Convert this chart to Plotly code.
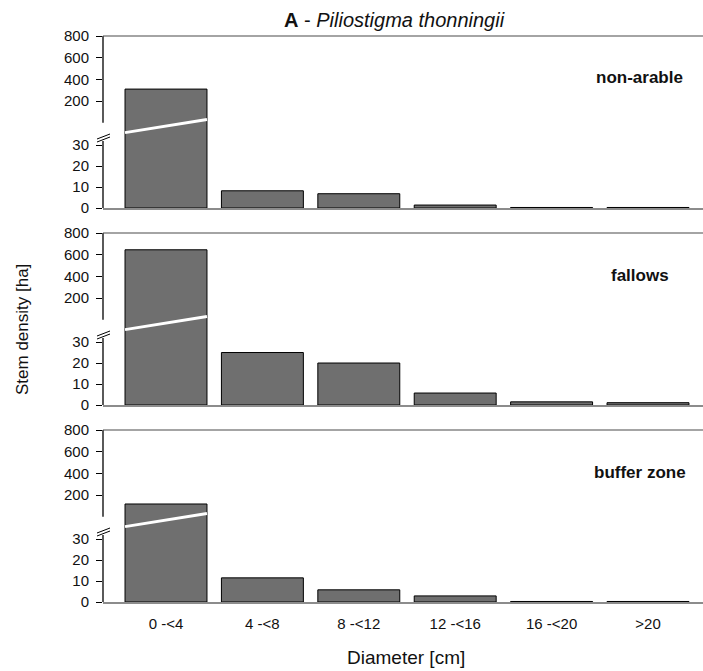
import plotly.graph_objects as go

# Stem density per diameter class, three land-use types
diameter_classes = ["0 -<4", "4 -<8", "8 -<12", "12 -<16", "16 -<20", ">20"]
non_arable = [310, 8.2, 6.8, 1.4, 0.25, 0.25]
fallows = [645, 25, 20, 5.7, 1.5, 1.1]
buffer_zone = [117, 11.5, 5.8, 2.9, 0.25, 0.25]
panel_names = ["non-arable", "fallows", "buffer zone"]
panel_values = [non_arable, fallows, buffer_zone]

lower_ticks = [0, 10, 20, 30]
upper_ticks = [200, 400, 600, 800]

# broken axis: lower segment 0..LOWER_MAX, upper segment UPPER_MIN..800
LOWER_MAX = 32.4
UPPER_MIN = -160
UPPER_MAX = 800

W, H = 703, 671
ML, MR, MT, MB = 103, 0, 36, 69
PLOT_H = H - MT - MB
PLOT_W = W - ML - MR


def py(y):
    """pixel row -> paper y"""
    return (H - MB - y) / PLOT_H


def px(x):
    """pixel column -> paper x"""
    return (x - ML) / PLOT_W


BAR_FILL = "#6f6f6f"
FONT = "Liberation Sans, Arial, sans-serif"

fig = go.Figure()
shapes = []
annotations = []
layout = {}

xpos = list(range(len(diameter_classes)))

for k, (name, vals) in enumerate(zip(panel_names, panel_values)):
    top = MT + 197 * k
    split = top + 104
    bottom = top + 172
    xi = k + 1
    yl = 2 * k + 1
    yu = 2 * k + 2
    xname = "x" if xi == 1 else f"x{xi}"
    ylname = "y" if yl == 1 else f"y{yl}"
    yuname = f"y{yu}"

    # lower segment
    fig.add_trace(go.Bar(
        x=xpos, y=vals, xaxis=xname, yaxis=ylname,
        marker=dict(color=BAR_FILL, line=dict(color="#000000", width=1)),
        width=0.85, showlegend=False, hoverinfo="skip",
    ))
    # upper segment: only bars that run past the break
    upper_vals = [v if v > LOWER_MAX else None for v in vals]
    fig.add_trace(go.Bar(
        x=xpos, y=[(v - UPPER_MIN + 300) if v is not None else None for v in upper_vals],
        base=UPPER_MIN - 300,
        xaxis=xname, yaxis=yuname,
        marker=dict(color=BAR_FILL, line=dict(color="#000000", width=1)),
        width=0.85, showlegend=False, hoverinfo="skip",
    ))

    layout[f"xaxis{xi}" if xi > 1 else "xaxis"] = dict(
        domain=[0, 1], anchor=ylname,
        range=[-0.6535, -0.6535 + PLOT_W / 96.4],
        tickmode="array", tickvals=xpos, ticktext=diameter_classes,
        showticklabels=(k == 2), ticks="", ticklabelstandoff=7,
        tickfont=dict(family=FONT, size=15, color="#111111"),
        showline=True, linecolor="#8c8c8c", linewidth=1.5,
        showgrid=False, zeroline=False,
    )
    layout[f"yaxis{yl}" if yl > 1 else "yaxis"] = dict(
        domain=[py(bottom), py(split)], anchor=xname,
        range=[0, LOWER_MAX], tickvals=lower_ticks,
        ticks="outside", ticklen=6, tickcolor="#000000", tickwidth=1,
        ticklabelstandoff=4,
        tickfont=dict(family=FONT, size=15, color="#111111"),
        showline=False, showgrid=False, zeroline=False,
    )
    layout[f"yaxis{yu}"] = dict(
        domain=[py(split), py(top)], anchor=xname,
        range=[UPPER_MIN, UPPER_MAX], tickvals=upper_ticks,
        ticks="outside", ticklen=6, tickcolor="#000000", tickwidth=1,
        ticklabelstandoff=4,
        tickfont=dict(family=FONT, size=15, color="#111111"),
        showline=False, showgrid=False, zeroline=False,
    )

    # white slash across bars that cross the break
    for i, v in enumerate(vals):
        if v > LOWER_MAX:
            shapes.append(dict(
                type="line", xref=xname, yref=yuname,
                x0=i - 0.425, x1=i + 0.425, y0=-92, y1=30,
                line=dict(color="#ffffff", width=3), layer="above",
            ))

    # y axis line, interrupted at the break
    upper_zero = top + UPPER_MAX / (UPPER_MAX - UPPER_MIN) * 104
    shapes.append(dict(type="line", xref="paper", yref="paper",
                       x0=0, x1=0, y0=py(top), y1=py(upper_zero),
                       line=dict(color="#000000", width=1.3)))
    shapes.append(dict(type="line", xref="paper", yref="paper",
                       x0=0, x1=0, y0=py(split + 1), y1=py(bottom),
                       line=dict(color="#000000", width=1.3)))
    # break marks
    for dy in (0, 3):
        shapes.append(dict(type="line", xref="paper", yref="paper",
                           x0=px(97), x1=px(110),
                           y0=py(top + 103 + dy), y1=py(top + 98 + dy),
                           line=dict(color="#000000", width=1)))
    # frame line at the top of each panel
    shapes.append(dict(type="line", xref="paper", yref="paper",
                       x0=0, x1=1, y0=py(top), y1=py(top),
                       line=dict(color="#4a4a4a", width=1.2)))

    label_y = [78, 275, 473][k]
    annotations.append(dict(
        text=f"<b>{name}</b>", xref="paper", yref="paper",
        x=px(639.5), y=py(label_y), xanchor="center", yanchor="middle",
        showarrow=False, font=dict(family=FONT, size=17, color="#111111"),
    ))

annotations.append(dict(
    text="<b>A</b> - <i>Piliostigma thonningii</i>", xref="paper", yref="paper",
    x=px(394), y=py(20), xanchor="center", yanchor="middle",
    showarrow=False, font=dict(family=FONT, size=20, color="#111111"),
))
annotations.append(dict(
    text="Stem density [ha]", xref="paper", yref="paper",
    x=px(22), y=py(330), xanchor="center", yanchor="middle", textangle=-90,
    showarrow=False, font=dict(family=FONT, size=17, color="#111111"),
))
annotations.append(dict(
    text="Diameter [cm]", xref="paper", yref="paper",
    x=px(406), y=py(657), xanchor="center", yanchor="middle",
    showarrow=False, font=dict(family=FONT, size=19, color="#111111"),
))

fig.update_layout(
    width=W, height=H,
    margin=dict(l=ML, r=MR, t=MT, b=MB, pad=0),
    paper_bgcolor="#ffffff", plot_bgcolor="#ffffff",
    barmode="overlay", showlegend=False,
    shapes=shapes, annotations=annotations,
    **layout,
)

fig.write_html("out.html")
